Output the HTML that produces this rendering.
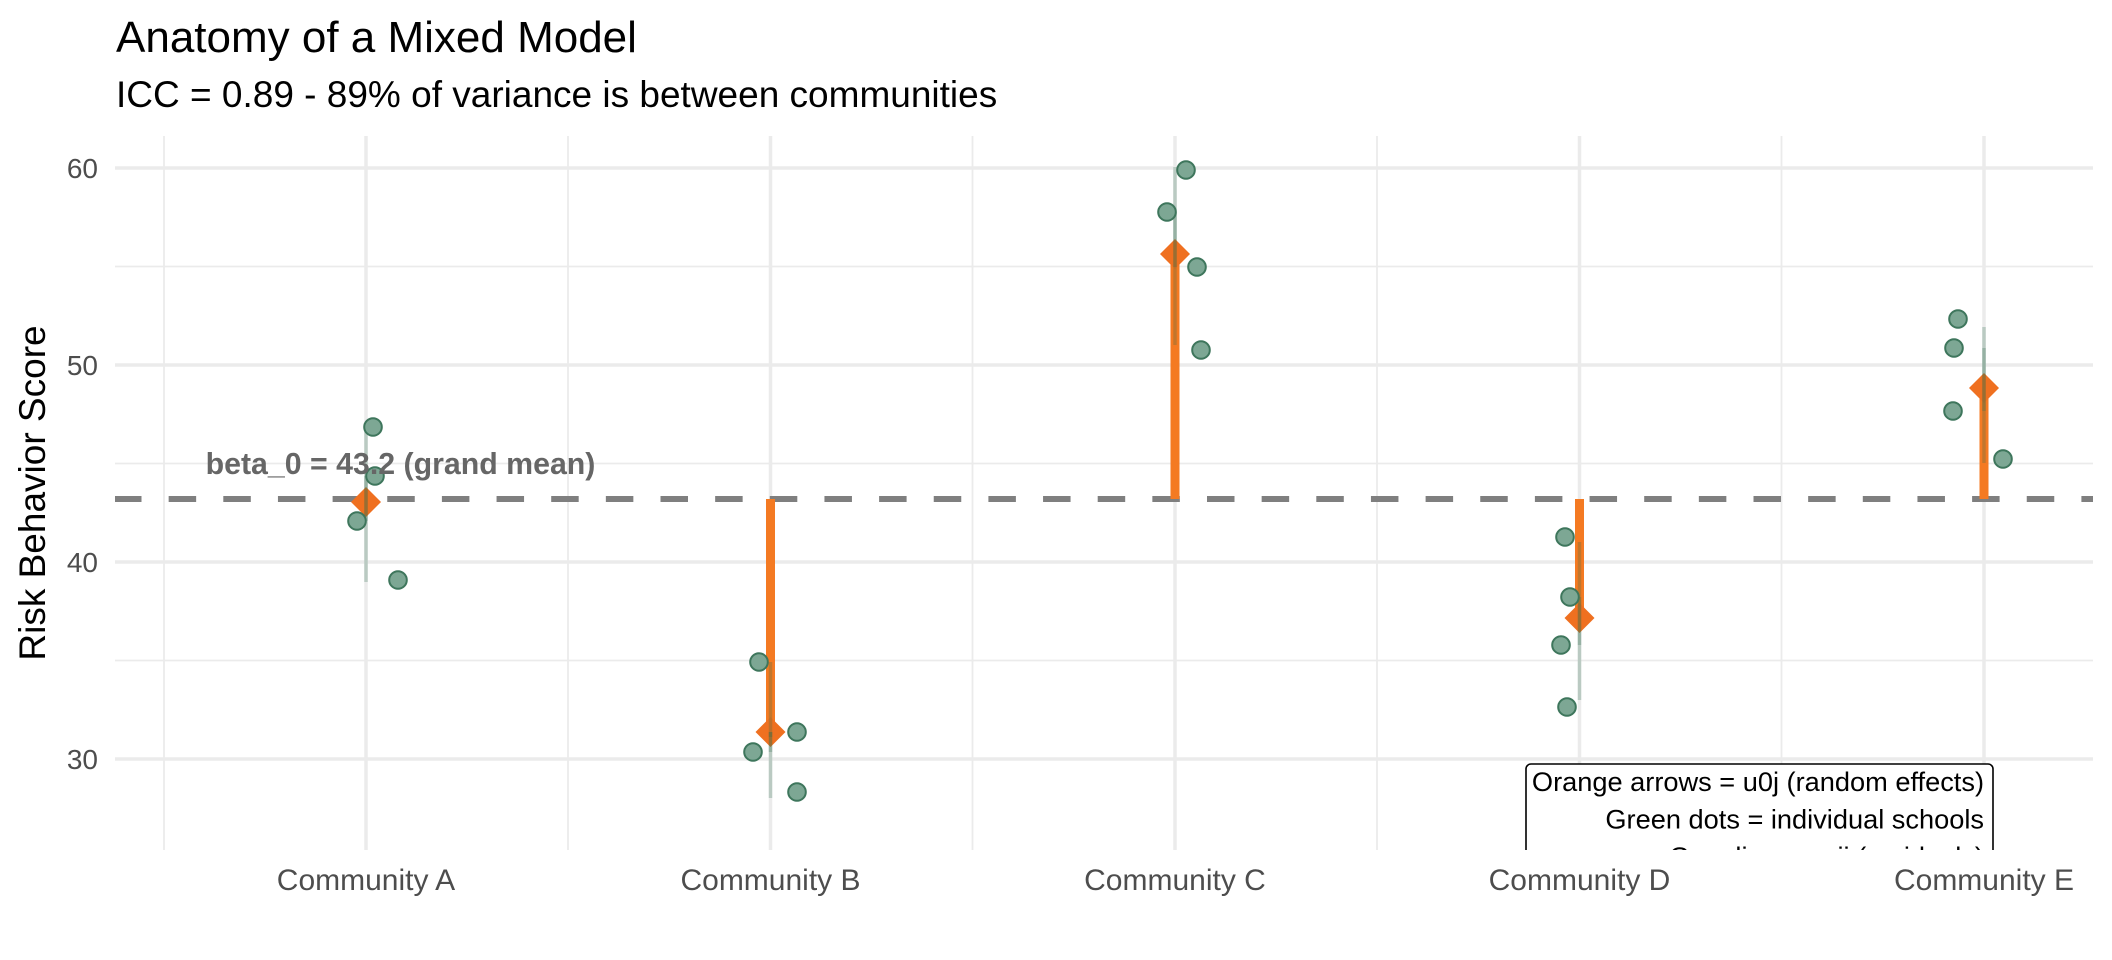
<!DOCTYPE html>
<html>
<head>
<meta charset="utf-8">
<style>
  html, body { margin:0; padding:0; background:#fff; }
  svg { display:block; }
  text { font-family: "Liberation Sans", "DejaVu Sans", sans-serif; }
</style>
</head>
<body>
<svg width="2112" height="960" viewBox="0 0 2112 960" xmlns="http://www.w3.org/2000/svg">
  <defs>
    <clipPath id="panel"><rect x="115" y="136" width="1978" height="714"/></clipPath>
  </defs>
  <rect x="0" y="0" width="2112" height="960" fill="#ffffff"/>

  <!-- Title / subtitle -->
  <text x="116" y="52" font-size="44" fill="#000">Anatomy of a Mixed Model</text>
  <text x="116" y="107" font-size="37" fill="#000">ICC = 0.89 - 89% of variance is between communities</text>

  <g clip-path="url(#panel)">
    <!-- minor grid -->
    <g stroke="#EBEBEB" stroke-width="1.8">
      <line x1="115" x2="2093" y1="266.5" y2="266.5"/>
      <line x1="115" x2="2093" y1="463.5" y2="463.5"/>
      <line x1="115" x2="2093" y1="660.5" y2="660.5"/>
      <line x1="164" x2="164" y1="136" y2="850"/>
      <line x1="568" x2="568" y1="136" y2="850"/>
      <line x1="972.5" x2="972.5" y1="136" y2="850"/>
      <line x1="1377" x2="1377" y1="136" y2="850"/>
      <line x1="1781.5" x2="1781.5" y1="136" y2="850"/>
    </g>
    <!-- major grid -->
    <g stroke="#EBEBEB" stroke-width="3.5">
      <line x1="115" x2="2093" y1="168" y2="168"/>
      <line x1="115" x2="2093" y1="365" y2="365"/>
      <line x1="115" x2="2093" y1="562" y2="562"/>
      <line x1="115" x2="2093" y1="759" y2="759"/>
      <line x1="366" x2="366" y1="136" y2="850"/>
      <line x1="770.5" x2="770.5" y1="136" y2="850"/>
      <line x1="1175" x2="1175" y1="136" y2="850"/>
      <line x1="1579.5" x2="1579.5" y1="136" y2="850"/>
      <line x1="1984" x2="1984" y1="136" y2="850"/>
    </g>

    <!-- grand mean dashed line -->
    <line x1="114" x2="2093" y1="499" y2="499" stroke="#7F7F7F" stroke-width="6" stroke-dasharray="27.5 27.15"/>

    <!-- orange bars (random effects) -->
    <g fill="#F47A22">
      <rect x="361.5" y="499" width="9" height="3"/>
      <rect x="766" y="499" width="9" height="240"/>
      <rect x="1170.5" y="258" width="9" height="241"/>
      <rect x="1575" y="499" width="9" height="117"/>
      <rect x="1979.5" y="390" width="9" height="109"/>
    </g>

    <!-- diamonds (community means) -->
    <g fill="#EF7020">
      <polygon points="366,487 381,502 366,517 351,502"/>
      <polygon points="770.5,717 785.5,732 770.5,747 755.5,732"/>
      <polygon points="1175,239 1190,254 1175,269 1160,254"/>
      <polygon points="1579.5,603 1594.5,618 1579.5,633 1564.5,618"/>
      <polygon points="1984,373 1999,388 1984,403 1969,388"/>
    </g>

    <!-- residual lines -->
    <g stroke="#2E6B4F" stroke-opacity="0.26" stroke-width="3.5">
      <line x1="366" x2="366" y1="502" y2="432"/>
      <line x1="366" x2="366" y1="502" y2="476"/>
      <line x1="366" x2="366" y1="502" y2="521"/>
      <line x1="366" x2="366" y1="502" y2="582"/>

      <line x1="770.5" x2="770.5" y1="732" y2="662"/>
      <line x1="770.5" x2="770.5" y1="732" y2="737"/>
      <line x1="770.5" x2="770.5" y1="732" y2="752"/>
      <line x1="770.5" x2="770.5" y1="732" y2="798"/>

      <line x1="1175" x2="1175" y1="254" y2="167"/>
      <line x1="1175" x2="1175" y1="254" y2="212"/>
      <line x1="1175" x2="1175" y1="254" y2="267"/>
      <line x1="1175" x2="1175" y1="254" y2="345"/>

      <line x1="1579.5" x2="1579.5" y1="618" y2="542"/>
      <line x1="1579.5" x2="1579.5" y1="618" y2="597"/>
      <line x1="1579.5" x2="1579.5" y1="618" y2="645"/>
      <line x1="1579.5" x2="1579.5" y1="618" y2="700"/>

      <line x1="1984" x2="1984" y1="388" y2="327"/>
      <line x1="1984" x2="1984" y1="388" y2="348"/>
      <line x1="1984" x2="1984" y1="388" y2="411"/>
      <line x1="1984" x2="1984" y1="388" y2="463"/>
    </g>

    <!-- school points -->
    <g fill="#7DA794" stroke="#3E765C" stroke-width="2">
      <circle cx="373" cy="427" r="8.8"/>
      <circle cx="375" cy="476" r="8.8"/>
      <circle cx="357" cy="521" r="8.8"/>
      <circle cx="398" cy="580" r="8.8"/>

      <circle cx="759" cy="662" r="8.8"/>
      <circle cx="797" cy="732" r="8.8"/>
      <circle cx="753" cy="752" r="8.8"/>
      <circle cx="797" cy="792" r="8.8"/>

      <circle cx="1186" cy="170" r="8.8"/>
      <circle cx="1167" cy="212" r="8.8"/>
      <circle cx="1197" cy="267" r="8.8"/>
      <circle cx="1201" cy="350" r="8.8"/>

      <circle cx="1565" cy="537" r="8.8"/>
      <circle cx="1570" cy="597" r="8.8"/>
      <circle cx="1561" cy="645" r="8.8"/>
      <circle cx="1567" cy="707" r="8.8"/>

      <circle cx="1958" cy="319" r="8.8"/>
      <circle cx="1954" cy="348" r="8.8"/>
      <circle cx="1953" cy="411" r="8.8"/>
      <circle cx="2003" cy="459" r="8.8"/>
    </g>

    <!-- annotation -->
    <text x="400.5" y="474" font-size="30.3" font-weight="bold" fill="#666666" text-anchor="middle">beta_0 = 43.2 (grand mean)</text>

    <!-- legend-like label box (clipped by panel) -->
    <rect x="1526" y="764" width="467" height="130" rx="5" ry="5" fill="#ffffff" stroke="#000" stroke-width="1.6"/>
    <g font-size="27.2" fill="#000" text-anchor="end">
      <text x="1984" y="791">Orange arrows = u0j (random effects)</text>
      <text x="1984" y="828.5">Green dots = individual schools</text>
      <text x="1984" y="866">Gray lines = eij (residuals)</text>
    </g>
  </g>

  <!-- y tick labels -->
  <g font-size="28" fill="#4D4D4D" text-anchor="end">
    <text x="98" y="178">60</text>
    <text x="98" y="375">50</text>
    <text x="98" y="572">40</text>
    <text x="98" y="769">30</text>
  </g>

  <!-- x tick labels -->
  <g font-size="30" fill="#4D4D4D" text-anchor="middle">
    <text x="366" y="890">Community A</text>
    <text x="770.5" y="890">Community B</text>
    <text x="1175" y="890">Community C</text>
    <text x="1579.5" y="890">Community D</text>
    <text x="1984" y="890">Community E</text>
  </g>

  <!-- y axis title -->
  <text x="45" y="493" font-size="37" fill="#000" text-anchor="middle" transform="rotate(-90 45 493)">Risk Behavior Score</text>
</svg>
</body>
</html>
